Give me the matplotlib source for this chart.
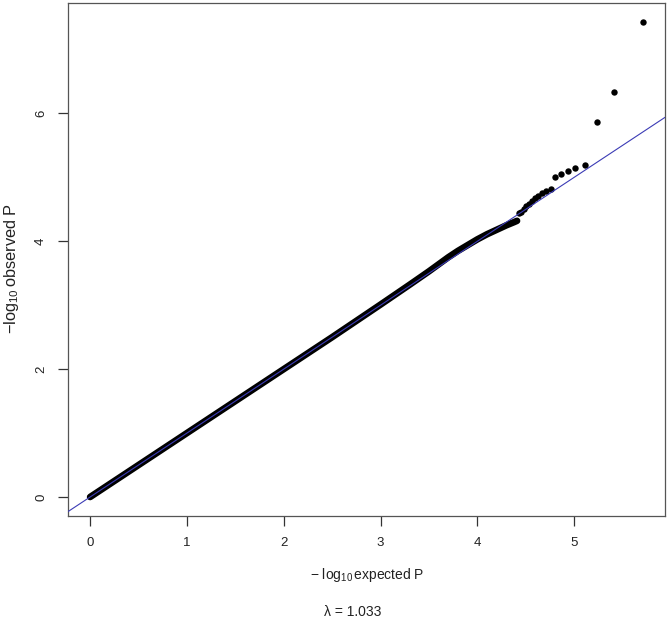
import matplotlib
matplotlib.use("Agg")
import matplotlib.pyplot as plt
import numpy as np

plt.rcParams['font.family'] = ['Liberation Sans', 'DejaVu Sans']
plt.rcParams['mathtext.fontset'] = 'custom'
plt.rcParams['mathtext.rm'] = 'Liberation Sans'
plt.rcParams['mathtext.it'] = 'Liberation Sans:italic'
plt.rcParams['mathtext.bf'] = 'Liberation Sans:bold'

# Bulk of the QQ points (expected, observed), read along the dense band
bulk_expected = [0.0, 0.5, 1.0, 1.5, 2.0, 2.5, 3.0, 3.3, 3.5, 3.6, 3.7, 3.8,
                 3.9, 4.0, 4.1, 4.2, 4.3, 4.38, 4.41]
bulk_observed = [0.0, 0.5, 1.0, 1.5, 2.0, 2.5, 3.01, 3.32, 3.53, 3.64, 3.75, 3.85,
                 3.94, 4.03, 4.11, 4.18, 4.25, 4.30, 4.32]

# Individual tail points (largest signals)
tail_expected = [5.71, 5.41, 5.233, 5.108, 5.011, 4.932, 4.865, 4.807, 4.756,
                 4.71, 4.669, 4.631, 4.596, 4.564, 4.534, 4.506, 4.48, 4.455, 4.43]
tail_observed = [7.43, 6.33, 5.87, 5.19, 5.15, 5.10, 5.05, 5.00, 4.82,
                 4.78, 4.75, 4.71, 4.67, 4.63, 4.59, 4.55, 4.50, 4.46, 4.44]

lambda_gc = 1.033
x_ticks = [0, 1, 2, 3, 4, 5]
y_ticks = [0, 2, 4, 6]

fig = plt.figure(figsize=(6.70, 6.23), dpi=100)
ax = fig.add_axes([68/670, (623-516)/623, (665-68)/670, (516-3)/623])

# dense band of points
ax.plot(bulk_expected, bulk_observed, color='black', lw=4.8,
        solid_capstyle='round', solid_joinstyle='round', zorder=2)
ax.plot(tail_expected, tail_observed, 'o', color='black', markersize=4.6,
        markeredgewidth=0, zorder=2)

allx = bulk_expected + tail_expected
ally = bulk_observed + tail_observed
xr = (min(allx), max(allx))
yr = (min(ally), max(ally))
dx = 0.04 * (xr[1] - xr[0])
dy = 0.04 * (yr[1] - yr[0])
ax.set_xlim(xr[0] - dx, xr[1] + dx)
ax.set_ylim(yr[0] - dy, yr[1] + dy)

# y = x reference line
ax.axline((0, 0), slope=1, color='#3b3bb5', lw=0.8, zorder=3)

ax.set_xticks(x_ticks)
ax.set_yticks(y_ticks)
ax.set_xticklabels([str(t) for t in x_ticks])
ax.set_yticklabels([str(t) for t in y_ticks], rotation=90, va='center')
ax.tick_params(direction='out', length=7, width=0.9, color='#333333',
               labelsize=9.5, labelcolor='#222222', pad=8)
for s in ax.spines.values():
    s.set_color('#555555')
    s.set_linewidth(0.9)

fig.text(367/670, 1 - 575/623, r'$-\ \log_{10}$expected P', ha='center', va='center',
         fontsize=10, color='#222222')
fig.text(12/670, 1 - 268/623, r'$-\log_{10}$observed P', ha='center', va='center',
         rotation=90, fontsize=11.8, color='#222222')
fig.text(353/670, 1 - 612/623, '\u03bb = ' + f'{lambda_gc:.3f}', ha='center',
         va='center', fontsize=10, color='#222222')

fig.savefig('out.png', dpi=100, facecolor='white')
